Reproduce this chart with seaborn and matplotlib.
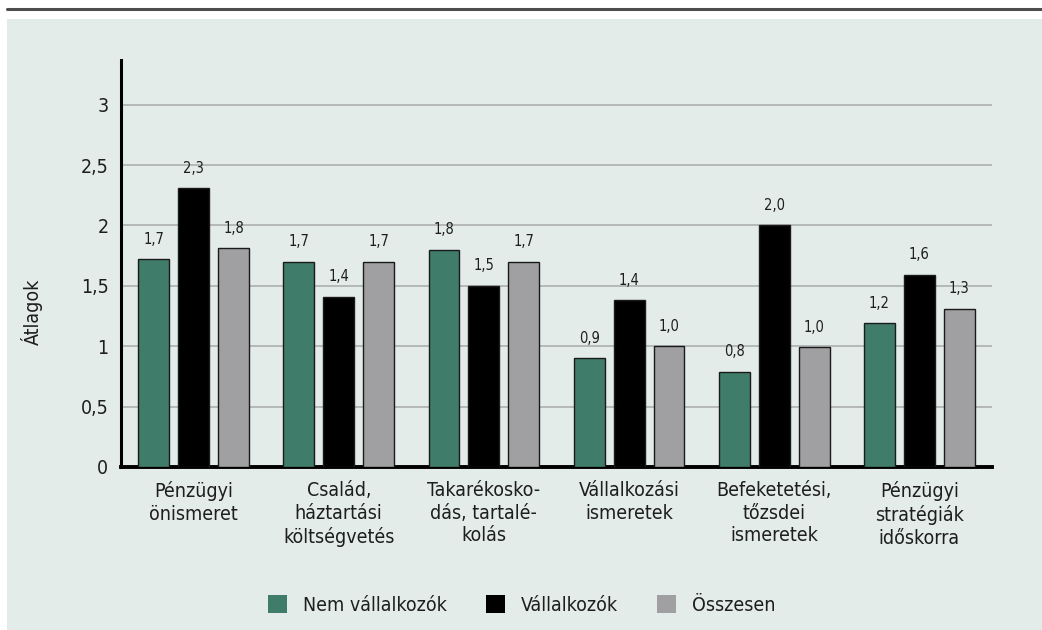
import pandas as pd
import seaborn as sns
import matplotlib.pyplot as plt
from matplotlib.patches import Rectangle, Patch
from matplotlib.lines import Line2D

# adatok
categories = [
    "Pénzügyi\nönismeret",
    "Család,\nháztartási\nköltségvetés",
    "Takarékosko-\ndás, tartalé-\nkolás",
    "Vállalkozási\nismeretek",
    "Befeketetési,\ntőzsdei\nismeretek",
    "Pénzügyi\nstratégiák\nidőskorra",
]
series = ["Nem vállalkozók", "Vállalkozók", "Összesen"]
nem_vallalkozok = [1.72, 1.70, 1.80, 0.90, 0.79, 1.19]
vallalkozok = [2.31, 1.41, 1.50, 1.38, 2.00, 1.59]
osszesen = [1.81, 1.70, 1.70, 1.00, 0.99, 1.31]
y_ticks = [0, 0.5, 1, 1.5, 2, 2.5, 3]
y_tick_labels = ["0", "0,5", "1", "1,5", "2", "2,5", "3"]

colors = ["#3f7c69", "#000000", "#a0a0a2"]
panel = "#e4ece9"
text_c = "#1e1e1e"

df = pd.DataFrame({
    "kat": categories * 3,
    "csoport": [s for s in series for _ in categories],
    "ertek": nem_vallalkozok + vallalkozok + osszesen,
})

sns.set_theme(style="white")
plt.rcParams["font.family"] = ["DejaVu Sans"]
plt.rcParams["font.stretch"] = "condensed"

fig = plt.figure(figsize=(10.42, 6.3), dpi=100)
fig.patch.set_facecolor("white")
# háttér panel és felső vonal
bg = Rectangle((7 / 1042, 0), 1 - 7 / 1042, 1 - 19 / 630,
               transform=fig.transFigure, facecolor=panel, edgecolor="none", zorder=-5)
fig.add_artist(bg)
fig.add_artist(Line2D([7 / 1042, 1], [1 - 9 / 630] * 2, transform=fig.transFigure,
                      color="#4d4d4d", lw=2.2, zorder=-5))

ax = fig.add_axes([121 / 1042, 1 - 467 / 630, (992 - 121) / 1042, (467 - 60) / 630])
ax.set_facecolor(panel)

sns.barplot(data=df, x="kat", y="ertek", hue="csoport", palette=colors,
            saturation=1, width=0.825, gap=0.225, edgecolor="#1a1a1a",
            linewidth=1.0, ax=ax, legend=False, zorder=3)

for cont in ax.containers:
    labels = [f"{b.get_height():.1f}".replace(".", ",") for b in cont]
    ax.bar_label(cont, labels=labels, padding=9, fontsize=10.5, color=text_c)

ax.set_ylim(0, 3.37)
ax.set_xlim(-0.5, 5.5)
ax.set_yticks(y_ticks)
ax.set_yticklabels(y_tick_labels, fontsize=14, color=text_c)
ax.tick_params(axis="x", labelsize=14, colors=text_c, length=0, pad=10)
ax.tick_params(axis="y", length=0, pad=9)
for t in ax.get_xticklabels():
    t.set_linespacing(1.25)
ax.set_xlabel("")
ax.set_ylabel("Átlagok", fontsize=14, color=text_c)
ax.yaxis.set_label_coords(-(121 - 43) / 871, (467 - 312) / 407)
ax.yaxis.grid(True, color="#a7aaa9", lw=1.1, zorder=0)
ax.set_axisbelow(True)

for side in ["top", "right"]:
    ax.spines[side].set_visible(False)
ax.spines["left"].set_color("black")
ax.spines["left"].set_linewidth(2.2)
ax.spines["bottom"].set_color("black")
ax.spines["bottom"].set_linewidth(2.8)

handles = [Patch(facecolor=c, edgecolor="none") for c in colors]
fig.legend(handles, series, loc="center", bbox_to_anchor=(0.5005, 1 - 605 / 630),
           ncol=3, frameon=False, fontsize=14, handlelength=1.0, handleheight=1.0,
           handletextpad=0.8, columnspacing=2.0, labelcolor=text_c)

fig.savefig("out.png", dpi=100, facecolor=fig.get_facecolor())
